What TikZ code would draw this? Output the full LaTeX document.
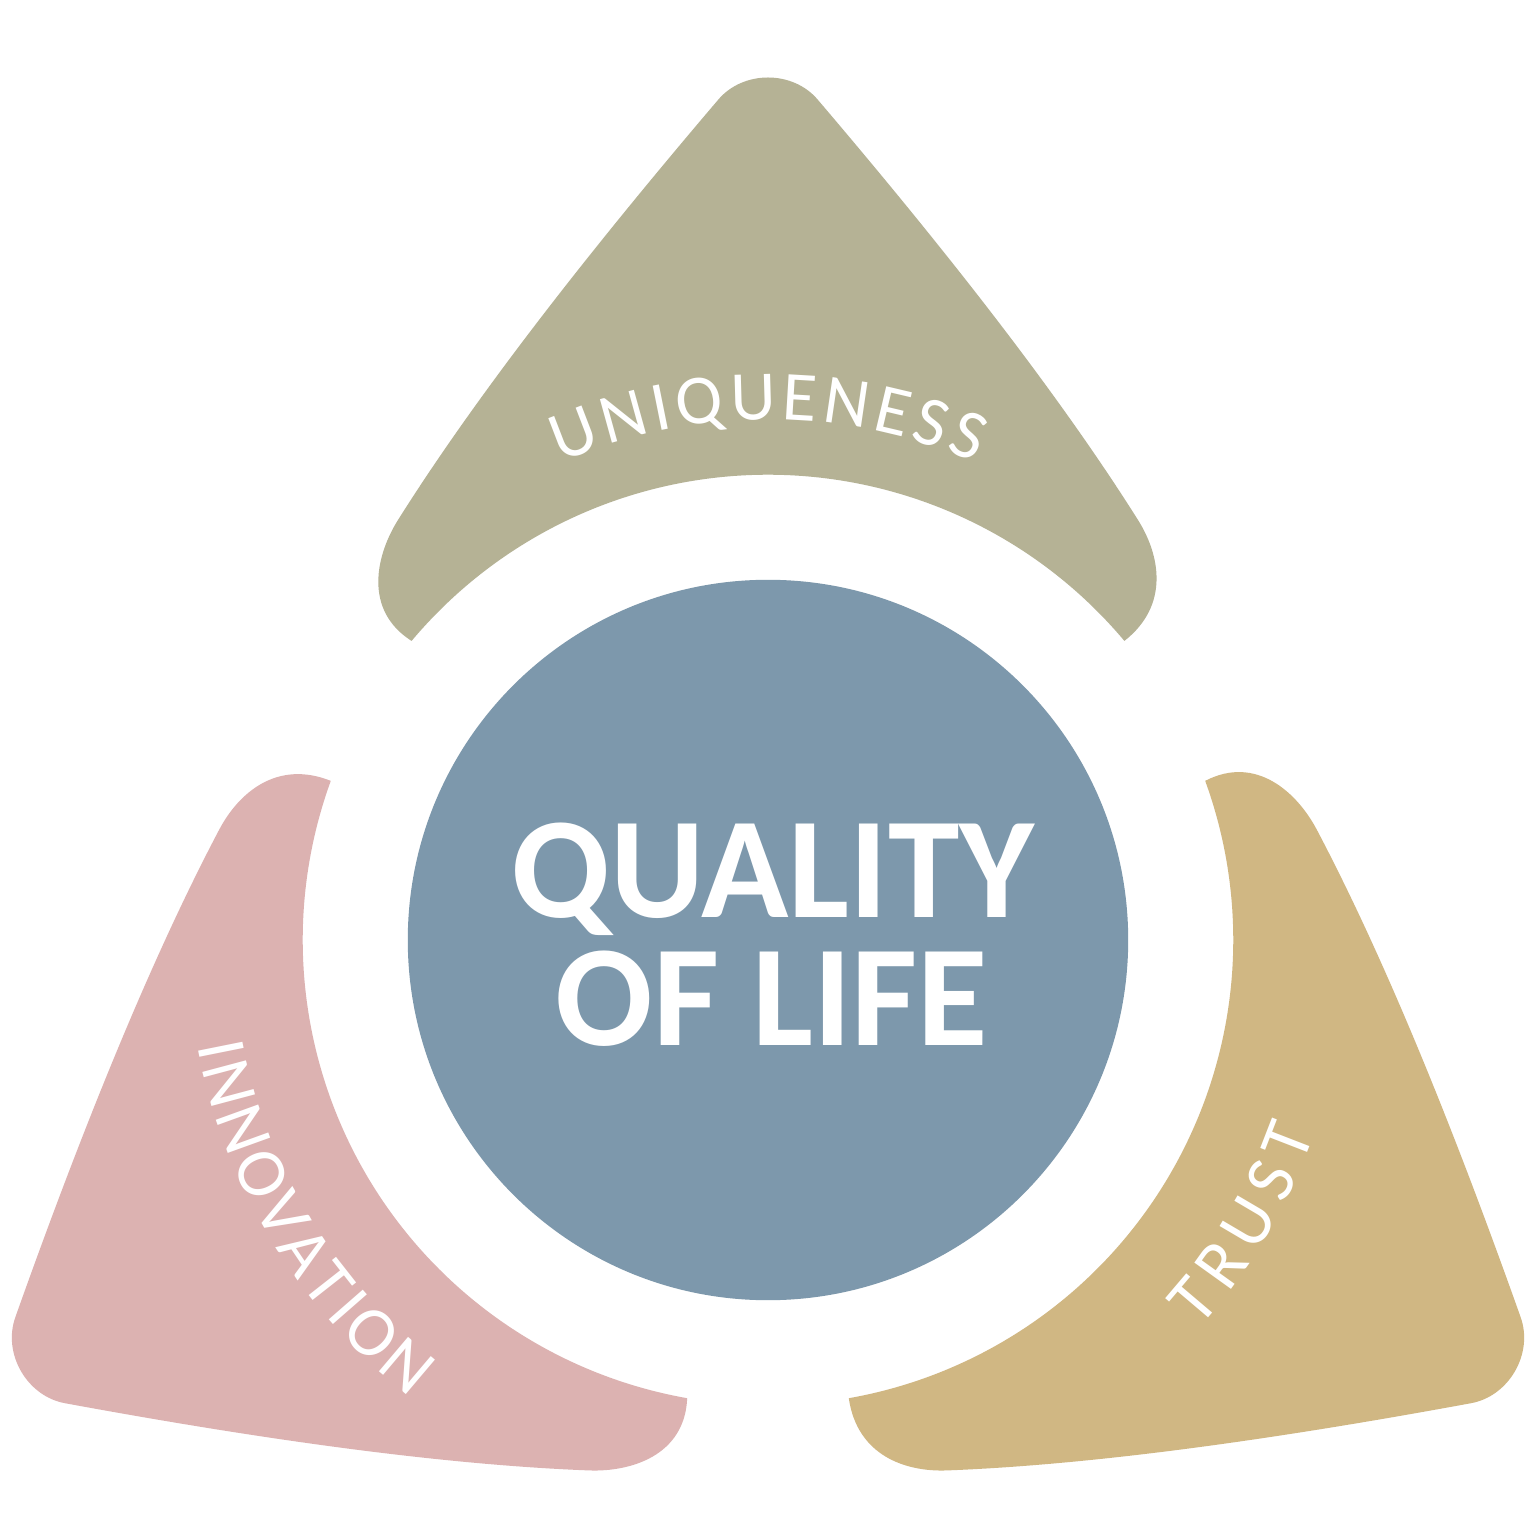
\documentclass[tikz,border=0pt]{standalone}
\usepackage{fontspec}
\setmainfont{Carlito}
\usetikzlibrary{decorations.text}
\definecolor{petalolive}{RGB}{181,178,149}
\definecolor{petalpink}{RGB}{220,178,177}
\definecolor{petaltan}{RGB}{208,183,131}
\definecolor{coreblue}{RGB}{125,152,172}
\newcommand\petalpath{(140:4.65cm) .. controls (-405,330) and (-392,385) .. (-370,420) .. controls (-285,555) and (-165,705) .. (-50,840) .. controls (-25,870) and (25,870) .. (50,840) .. controls (165,705) and (285,555) .. (370,420) .. controls (392,385) and (402,335) .. (40:4.65cm) arc[start angle=40, end angle=140, radius=4.65cm] -- cycle}
\newcommand\arcfont{\fontsize{20}{24}\selectfont}
\newcommand\corefont{\fontsize{41}{48}\selectfont\bfseries}
\begin{document}
\begin{tikzpicture}[x=0.01cm,y=0.01cm,
  arclabel/.style={decorate, decoration={text along path, text align=fit to path, text color=white}},
  coretext/.style={text=white, font=\corefont, anchor=base, inner sep=0pt}]
\useasboundingbox (-768,-596) rectangle (768,940);
\fill[white] (-768,-596) rectangle (768,940);
\fill[petalolive] \petalpath;
\begin{scope}[rotate=120]
  \fill[petalpink] \petalpath;
\end{scope}
\begin{scope}[rotate=240]
  \fill[petaltan] \petalpath;
\end{scope}
\node[circle, fill=coreblue, minimum size=7.2cm, inner sep=0pt] (core) at (0,0) {};
\node[coretext] (line1) at (5,23) {QUALITY};
\node[coretext] (line2) at (4,-105) {OF LIFE};
\path[arclabel, decoration={text={|\arcfont|UNIQUENESS}}] (113.5:5.2cm) arc[start angle=113.5, end angle=66.5, radius=5.2cm];
\path[arclabel, decoration={text={|\arcfont|INNOVATION}}] (190.5:5.8cm) arc[start angle=190.5, end angle=232, radius=5.8cm];
\path[arclabel, decoration={text={|\arcfont|TRUST}}] (-42:5.8cm) arc[start angle=-42, end angle=-19.5, radius=5.8cm];
\end{tikzpicture}
\end{document}
